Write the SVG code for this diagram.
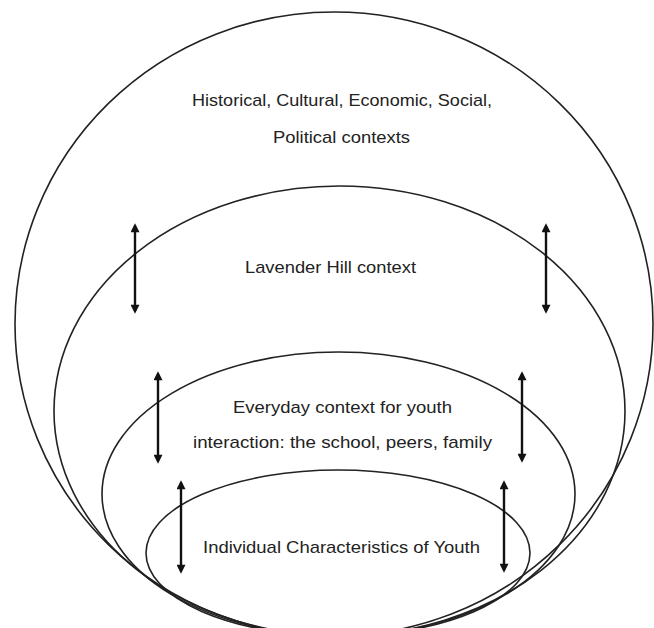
<svg xmlns="http://www.w3.org/2000/svg" width="654" height="628" viewBox="0 0 654 628">
<style>
.ring{fill:none;stroke:#222;stroke-width:1.6}
.lbl{font-family:"Liberation Sans",Arial,sans-serif;font-size:17px;fill:#222;text-anchor:middle}
.arr{stroke:#111;stroke-width:2.4;fill:none;marker-start:url(#ah);marker-end:url(#ah)}
</style>
<defs>
<marker id="ah" viewBox="0 0 10 10" refX="7" refY="5" markerWidth="10" markerHeight="9" markerUnits="userSpaceOnUse" orient="auto-start-reverse">
<path d="M0,0 L10,5 L0,10 z" fill="#111"/>
</marker>
</defs>
<rect width="654" height="628" fill="#fff"/>
<g id="outer">
<ellipse class="ring" cx="334" cy="324" rx="319" ry="312"/>
<text class="lbl" x="342" y="105.5" textLength="300" lengthAdjust="spacingAndGlyphs">Historical, Cultural, Economic, Social,</text>
<text class="lbl" x="341.5" y="143" textLength="137" lengthAdjust="spacingAndGlyphs">Political contexts</text>
</g>
<g id="lavender">
<ellipse class="ring" cx="339.5" cy="411" rx="285.5" ry="225"/>
<text class="lbl" x="330.5" y="272.5" textLength="171" lengthAdjust="spacingAndGlyphs">Lavender Hill context</text>
</g>
<g id="everyday">
<ellipse class="ring" cx="338.5" cy="494" rx="236.5" ry="142"/>
<text class="lbl" x="342.5" y="412.5" textLength="219" lengthAdjust="spacingAndGlyphs">Everyday context for youth</text>
<text class="lbl" x="342.5" y="447.5" textLength="299" lengthAdjust="spacingAndGlyphs">interaction: the school, peers, family</text>
</g>
<g id="individual">
<ellipse class="ring" cx="338" cy="553" rx="192" ry="83"/>
<text class="lbl" x="341.5" y="552.5" textLength="277" lengthAdjust="spacingAndGlyphs">Individual Characteristics of Youth</text>
</g>
<g id="connectors">
<line class="arr" x1="135" y1="226" x2="135" y2="311"/>
<line class="arr" x1="546" y1="226" x2="546" y2="311"/>
<line class="arr" x1="158" y1="374" x2="158" y2="461"/>
<line class="arr" x1="522" y1="374" x2="522" y2="460"/>
<line class="arr" x1="181" y1="483" x2="181" y2="571"/>
<line class="arr" x1="504" y1="483" x2="504" y2="570"/>
</g>
</svg>
